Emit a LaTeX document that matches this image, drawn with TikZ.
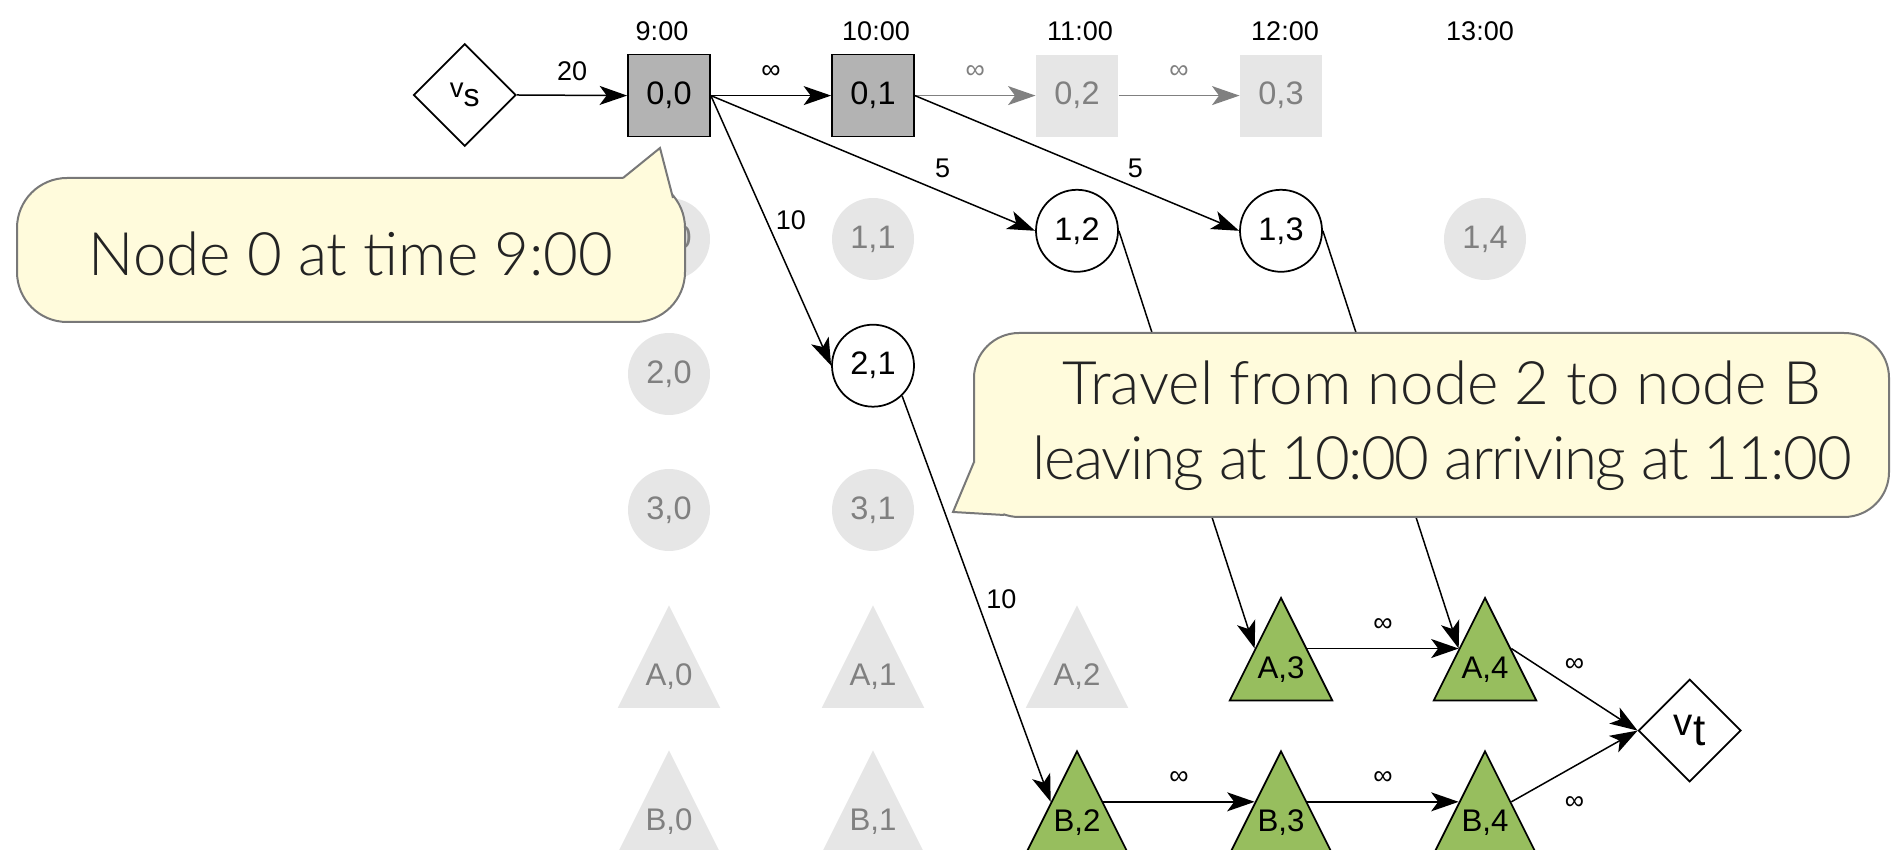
\documentclass[tikz,border=0pt]{standalone}
\usepackage{fontspec}
\setmainfont{Liberation Sans}
\newfontfamily\notefont{Lato Light}
\usetikzlibrary{positioning, calc, shapes.geometric, arrows.meta}

\definecolor{boxgray}{RGB}{179,179,179}
\definecolor{offgray}{RGB}{230,230,230}
\definecolor{offtext}{RGB}{128,128,128}
\definecolor{citygreen}{RGB}{151,190,94}
\definecolor{notefill}{RGB}{255,251,220}
\definecolor{noteline}{RGB}{120,120,120}
\definecolor{notetextcolor}{RGB}{35,35,35}

\tikzset{
    box/.style={rectangle, draw, line width=0.7pt, fill=boxgray, minimum size=32.8pt, inner sep=0pt, font=\fontsize{13}{15}\selectfont},
    offbox/.style={rectangle, fill=offgray, text=offtext, minimum size=32.8pt, inner sep=0pt, font=\fontsize{13}{15}\selectfont},
    station/.style={circle, draw, line width=0.7pt, fill=white, minimum size=32.8pt, inner sep=0pt, font=\fontsize{13}{15}\selectfont},
    offstation/.style={circle, fill=offgray, text=offtext, minimum size=32.8pt, inner sep=0pt, font=\fontsize{13}{15}\selectfont},
    city/.style={isosceles triangle, isosceles triangle stretches, shape border rotate=90, minimum width=41pt, minimum height=41pt, inner sep=0pt, text depth=6.7pt, anchor=apex, draw, line width=0.7pt, fill=citygreen, font=\fontsize{12.5}{14}\selectfont},
    offcity/.style={isosceles triangle, isosceles triangle stretches, shape border rotate=90, minimum width=41pt, minimum height=41pt, inner sep=0pt, text depth=6.7pt, anchor=apex, fill=offgray, text=offtext, font=\fontsize{12.5}{14}\selectfont},
    term/.style={diamond, aspect=1, draw, line width=0.7pt, fill=white, minimum width=41pt, minimum height=41pt, inner sep=0pt},
    clock/.style={inner sep=0pt, font=\fontsize{10.8}{12}\selectfont},
    cost/.style={inner sep=0pt, font=\fontsize{10.8}{12}\selectfont},
    flow/.style={-{Stealth[length=11pt, width=7.6pt, inset=2.8pt]}, line width=0.6pt},
    offflow/.style={flow, draw=offtext, color=offtext},
    note/.style={fill=notefill, draw=noteline, line width=0.8pt},
    notetext/.style={inner sep=0pt, align=center, text=notetextcolor, font=\notefont\fontsize{24}{30}\selectfont}
}

\begin{document}
\begin{tikzpicture}[x=0.4pt, y=-0.4pt]
    \useasboundingbox (0,0) rectangle (1892,850);

    % time axis
    \node (t9) at (662,31) [clock] {9:00};
    \node (t10) at (876,31) [clock] {10:00};
    \node (t11) at (1080,31) [clock] {11:00};
    \node (t12) at (1285,31) [clock] {12:00};
    \node (t13) at (1480,31) [clock] {13:00};

    % unused states
    \foreach \c in {2, 3}
        \node (n0\c) at ({669+204*\c},95.6) [offbox] {0,\c};
    \foreach \r/\c/\y in {1/0/239, 1/1/239, 1/4/239, 2/0/374, 3/0/510, 3/1/510}
        \node (n\r\c) at ({669+204*\c},\y) [offstation] {\r,\c};
    \foreach \c in {0, 1, 2}
        \node (A\c) at ({669+204*\c},604) [offcity] {A,\c};
    \foreach \c in {0, 1}
        \node (B\c) at ({669+204*\c},749) [offcity] {B,\c};

    % used states
    \node (vs) at (464.8,95) [term, font=\fontsize{11}{13}\selectfont] {v\raisebox{-3.3pt}{\fontsize{12.8}{13}\selectfont s}};
    \node (n00) at (669,95.6) [box] {0,0};
    \node (n01) at (873,95.6) [box] {0,1};
    \node (n12) at (1077,230.8) [station] {1,2};
    \node (n13) at (1281,230.8) [station] {1,3};
    \node (n21) at (873,365.7) [station] {2,1};
    \node (A3) at (1281,595.7) [city] {A,3};
    \node (A4) at (1485,595.7) [city] {A,4};
    \node (B2) at (1077,749) [city] {B,2};
    \node (B3) at (1281,749) [city] {B,3};
    \node (B4) at (1485,749) [city] {B,4};
    \node (vt) at (1689.7,730.6) [term, font=\fontsize{15.4}{17}\selectfont] {v\raisebox{-3.7pt}{\fontsize{17.7}{19}\selectfont t}};

    % arcs
    \draw[flow] (vs.east) -- node[cost, yshift=9.6pt] {20} (n00.west);
    \draw[flow] (n00.east) -- node[cost, yshift=9.6pt] {∞} (n01.west);
    \draw[offflow] (n01.east) -- node[cost, text=offtext, yshift=9.6pt] {∞} (n02.west);
    \draw[offflow] (n02.east) -- node[cost, text=offtext, yshift=9.6pt] {∞} (n03.west);
    \draw[flow] (n00.east) -- node[cost, pos=0.715, yshift=9.7pt] {5} (n12.west);
    \draw[flow] (n01.east) -- node[cost, pos=0.68, yshift=7.7pt] {5} (n13.west);
    \draw[flow] (n00.east) -- node[cost, pos=0.46, xshift=9.9pt] {10} (n21.west);
    \draw[flow] (n21.-46) -- node[cost, pos=0.5, xshift=10pt] {10} (B2.left side);
    \draw[flow] (n12.east) -- (A3.left side);
    \draw[flow] (n13.east) -- (A4.left side);
    \draw[flow] (A3.right side) -- node[cost, yshift=9.6pt] {∞} (A4.left side);
    \draw[flow] (B2.right side) -- node[cost, yshift=9.6pt] {∞} (B3.left side);
    \draw[flow] (B3.right side) -- node[cost, yshift=9.6pt] {∞} (B4.left side);
    \draw[flow] (A4.right side) -- node[cost, yshift=10pt] {∞} (vt.west);
    \draw[flow] (B4.right side) -- node[cost, yshift=-14.6pt] {∞} (vt.west);

    % callouts
    \filldraw[note, rounded corners=20pt] (17,178) rectangle (685,322);
    \fill[notefill] (623,178) -- (660,148) -- (673,198) -- (665,206) -- (623,192) -- cycle;
    \draw[note, fill=none] (623,178) -- (660,148) -- (673,198);
    \node (memo0) at (351,253.5) [notetext] {Node 0 at time 9:00};

    \filldraw[note, rounded corners=18pt] (974,333) rectangle (1889,517);
    \fill[notefill] (974,462) -- (953,512) -- (1004,515) -- (1000,500) -- (985,470) -- cycle;
    \draw[note, fill=none] (974,462) -- (953,512) -- (1004,515);
    \node (memo1) at (1442,426) [notetext] {Travel from node 2 to node B\\{\addfontfeature{LetterSpace=-2.4}leaving at 10:00 arriving at 11:00}};
\end{tikzpicture}
\end{document}
